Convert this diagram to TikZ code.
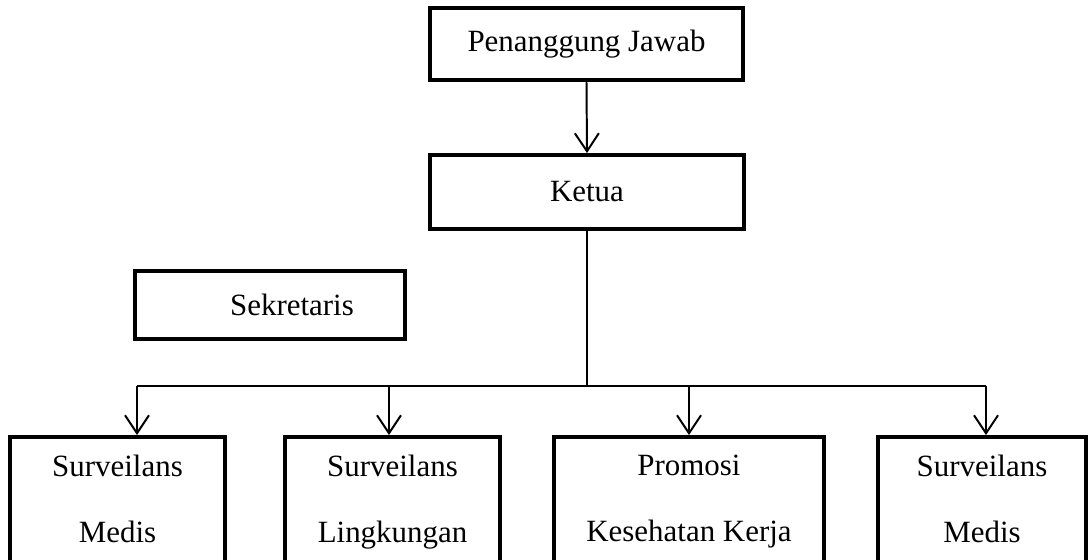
\documentclass[tikz,border=0pt]{standalone}
\usepackage{fontspec}
\setmainfont{Liberation Serif}
\usetikzlibrary{arrows.meta}

\newcommand{\linestrut}{\vphantom{Ag}}

\tikzset{
  orgbox/.style={draw, line width=2.8pt, inner sep=0pt, align=center,
    font=\fontsize{22}{47}\selectfont},
  orglink/.style={line width=1.4pt,
    -{Straight Barb[length=0.45cm, width=0.6cm, line width=1.4pt]}},
  orgline/.style={line width=1.4pt},
}

\begin{document}
\begin{tikzpicture}[x=0.025cm, y=-0.025cm]

\newcommand{\unitpx}{0.025cm}
\newcommand{\busy}{386}
\newcommand{\lowy}{502}
\newcommand{\lowh}{130}

\useasboundingbox (0,0) rectangle (1091,559);

% top of the chart
\node [orgbox, minimum width=313*\unitpx, minimum height=72*\unitpx] (pj) at (586.5,44) {Penanggung Jawab};
\node [orgbox, minimum width=314*\unitpx, minimum height=74*\unitpx] (ketua) at (587,192) {Ketua};
\node [orgbox, minimum width=270*\unitpx, minimum height=68*\unitpx] (sek) at (270,305) {\hspace*{1.1cm}Sekretaris};

% bottom row, box bottoms fall below the page
\node [orgbox, minimum width=215*\unitpx, minimum height=\lowh*\unitpx] (b1) at (117.5,\lowy) {Surveilans\linestrut\\Medis\linestrut};
\node [orgbox, minimum width=215*\unitpx, minimum height=\lowh*\unitpx] (b2) at (392.5,\lowy) {Surveilans\linestrut\\Lingkungan\linestrut};
\node [orgbox, minimum width=270*\unitpx, minimum height=\lowh*\unitpx] (b3) at (689,\lowy) {Promosi\linestrut\\Kesehatan Kerja\linestrut};
\node [orgbox, minimum width=208*\unitpx, minimum height=\lowh*\unitpx] (b4) at (982,\lowy) {Surveilans\linestrut\\Medis\linestrut};

\coordinate (t1) at (137,\busy);
\coordinate (t2) at (389,\busy);
\coordinate (t3) at (689,\busy);
\coordinate (t4) at (986,\busy);

\draw [orglink] (pj.south) -- (ketua.north);
\draw [orgline] (ketua.south) -- (ketua.south |- t1);
\draw [orgline] (t1) -- (t4);

\foreach \t/\b in {t1/b1, t2/b2, t3/b3, t4/b4}
{
\draw [orglink] (\t) -- (\t |- \b.north);
}

\end{tikzpicture}
\end{document}
